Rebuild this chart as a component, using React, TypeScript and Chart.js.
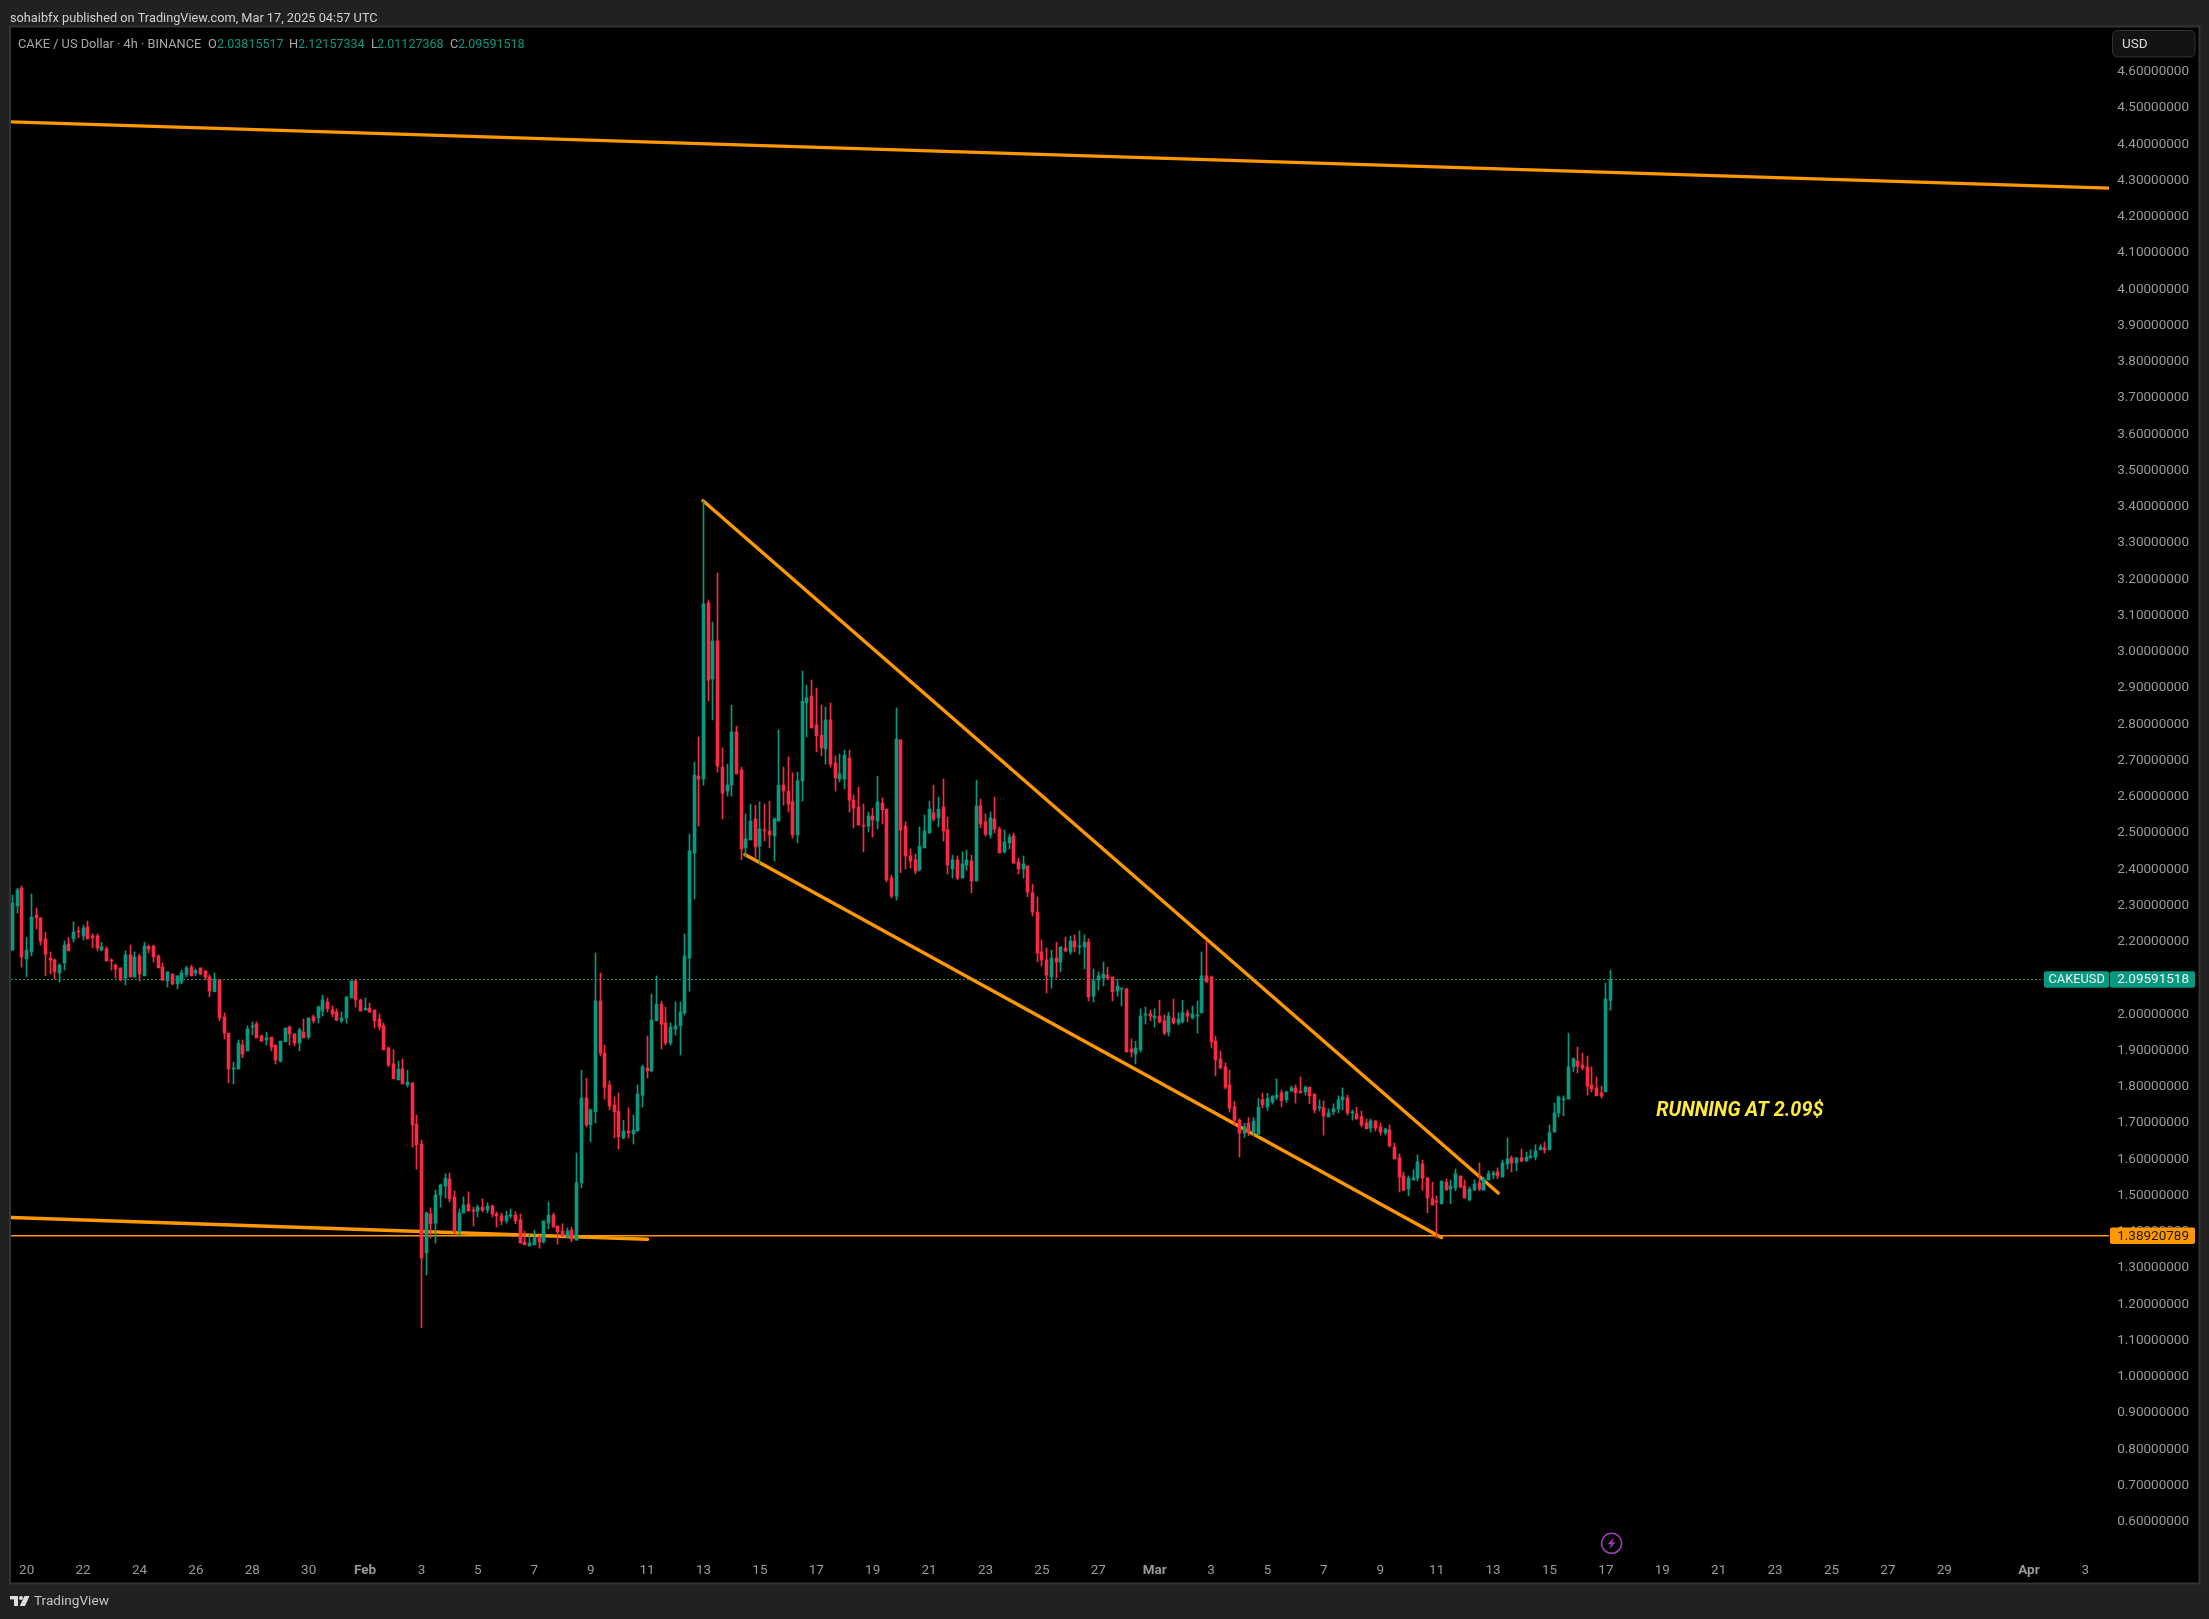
import React, { useEffect, useRef } from "react";
import { Chart, registerables } from "chart.js";

Chart.register(...registerables);

// 4h candles, one entry per bar
const opens = [
2.177,2.299,2.348,2.153,2.172,2.274,2.266,2.208,2.155,2.150,
2.114,2.142,2.194,2.208,2.230,2.216,2.241,2.216,2.216,2.177,
2.180,2.150,2.136,2.128,2.100,2.164,2.103,2.161,2.106,2.188,
2.188,2.161,2.130,2.092,2.111,2.084,2.089,2.109,2.130,2.114,
2.128,2.120,2.103,2.062,2.095,1.993,1.948,1.849,1.849,1.915,
1.899,1.965,1.973,1.940,1.929,1.937,1.915,1.871,1.924,1.965,
1.946,1.921,1.951,1.937,1.993,1.990,2.009,2.034,2.012,2.006,
1.982,1.990,2.045,2.092,2.039,2.012,2.017,2.012,1.987,1.968,
1.907,1.863,1.819,1.849,1.805,1.811,1.697,1.642,1.342,1.449,
1.424,1.502,1.526,1.546,1.496,1.400,1.452,1.477,1.460,1.457,
1.468,1.460,1.471,1.449,1.444,1.430,1.444,1.446,1.433,1.372,
1.361,1.364,1.383,1.372,1.424,1.446,1.416,1.402,1.386,1.405,
1.377,1.535,1.769,1.695,1.731,2.037,1.893,1.805,1.750,1.733,
1.659,1.678,1.670,1.678,1.777,1.852,1.844,1.982,2.028,1.976,
1.921,1.959,1.968,2.004,2.155,2.445,2.657,2.649,3.135,2.925,
3.030,2.682,2.616,2.632,2.779,2.674,2.459,2.481,2.539,2.464,
2.508,2.506,2.492,2.533,2.632,2.616,2.586,2.495,2.644,2.859,
2.878,2.798,2.770,2.732,2.812,2.693,2.649,2.649,2.707,2.591,
2.572,2.522,2.519,2.547,2.533,2.583,2.566,2.376,2.326,2.757,
2.519,2.437,2.426,2.398,2.459,2.500,2.555,2.542,2.572,2.508,
2.401,2.426,2.376,2.412,2.423,2.368,2.575,2.531,2.495,2.539,
2.511,2.448,2.473,2.492,2.420,2.401,2.409,2.335,2.282,2.172,
2.150,2.103,2.155,2.144,2.183,2.172,2.202,2.186,2.186,2.199,
2.050,2.095,2.100,2.108,2.103,2.064,2.070,2.070,1.904,1.890,
1.902,1.998,2.001,1.990,1.995,1.982,1.951,1.990,1.976,1.979,
2.004,1.990,1.995,2.004,2.106,2.103,1.926,1.877,1.855,1.805,
1.745,1.708,1.672,1.700,1.675,1.670,1.765,1.744,1.758,1.771,
1.783,1.764,1.788,1.797,1.788,1.786,1.799,1.780,1.742,1.742,
1.717,1.731,1.739,1.764,1.769,1.728,1.725,1.717,1.700,1.686,
1.706,1.689,1.673,1.681,1.634,1.604,1.554,1.518,1.543,1.548,
1.587,1.548,1.491,1.485,1.477,1.537,1.518,1.521,1.554,1.526,
1.488,1.515,1.535,1.515,1.543,1.557,1.565,1.551,1.587,1.604,
1.590,1.604,1.595,1.604,1.606,1.626,1.631,1.626,1.675,1.728,
1.764,1.766,1.855,1.871,1.860,1.855,1.805,1.797,1.783,1.786,2.03815517,
];
const highs = [
2.329,2.348,2.354,2.212,2.332,2.293,2.266,2.226,2.172,2.153,
2.139,2.202,2.212,2.255,2.241,2.246,2.257,2.222,2.222,2.199,
2.186,2.153,2.139,2.128,2.175,2.191,2.172,2.166,2.199,2.191,
2.191,2.164,2.142,2.117,2.111,2.106,2.122,2.133,2.136,2.125,
2.128,2.120,2.109,2.114,2.097,2.004,1.948,1.868,1.929,1.929,
1.968,1.979,1.979,1.943,1.951,1.937,1.915,1.926,1.962,1.968,
1.946,1.962,1.987,1.990,1.998,2.023,2.053,2.045,2.023,2.015,
2.006,2.048,2.092,2.097,2.042,2.045,2.031,2.012,2.001,1.976,
1.910,1.902,1.871,1.877,1.846,1.811,1.722,1.653,1.455,1.466,
1.515,1.532,1.560,1.562,1.513,1.463,1.496,1.510,1.468,1.474,
1.491,1.480,1.474,1.455,1.452,1.457,1.463,1.455,1.449,1.402,
1.394,1.405,1.391,1.430,1.482,1.452,1.416,1.422,1.411,1.413,
1.617,1.846,1.824,1.739,2.169,2.114,1.915,1.816,1.772,1.783,
1.708,1.742,1.722,1.805,1.860,1.940,2.056,2.106,2.036,2.020,
1.976,2.034,2.034,2.222,2.497,2.696,2.765,3.416,3.143,3.082,
3.217,2.735,2.690,2.853,2.795,2.682,2.553,2.580,2.577,2.586,
2.580,2.588,2.542,2.784,2.682,2.710,2.666,2.668,2.947,2.908,
2.922,2.900,2.853,2.848,2.859,2.713,2.718,2.729,2.729,2.605,
2.627,2.580,2.558,2.569,2.657,2.597,2.566,2.384,2.845,2.757,
2.531,2.456,2.442,2.517,2.550,2.588,2.632,2.599,2.649,2.544,
2.439,2.437,2.448,2.453,2.439,2.646,2.594,2.553,2.558,2.599,
2.517,2.508,2.497,2.500,2.431,2.437,2.409,2.359,2.324,2.205,
2.183,2.177,2.199,2.186,2.213,2.216,2.219,2.230,2.219,2.208,
2.125,2.117,2.144,2.130,2.103,2.097,2.072,2.072,1.932,1.926,
2.015,2.020,2.012,2.015,2.039,1.998,2.006,2.042,2.004,2.039,
2.012,2.023,2.037,2.172,2.202,2.106,1.940,1.899,1.866,1.846,
1.760,1.712,1.700,1.715,1.715,1.768,1.782,1.782,1.776,1.822,
1.791,1.788,1.802,1.805,1.827,1.802,1.799,1.780,1.764,1.761,
1.739,1.753,1.775,1.797,1.777,1.736,1.744,1.733,1.711,1.711,
1.706,1.700,1.686,1.695,1.645,1.615,1.565,1.554,1.571,1.612,
1.598,1.551,1.537,1.499,1.540,1.546,1.543,1.573,1.554,1.543,
1.524,1.543,1.590,1.551,1.568,1.568,1.576,1.598,1.659,1.609,
1.604,1.628,1.620,1.626,1.640,1.640,1.648,1.695,1.755,1.775,
1.775,1.948,1.880,1.910,1.893,1.885,1.855,1.827,1.802,2.086,2.12157334,
];
const lows = [
2.177,2.279,2.130,2.103,2.161,2.235,2.191,2.106,2.111,2.097,
2.089,2.122,2.175,2.199,2.211,2.205,2.208,2.183,2.175,2.175,
2.147,2.122,2.100,2.092,2.081,2.103,2.103,2.092,2.106,2.169,
2.144,2.128,2.092,2.075,2.081,2.070,2.084,2.103,2.106,2.106,
2.109,2.095,2.048,2.062,1.982,1.932,1.811,1.808,1.849,1.880,
1.899,1.943,1.935,1.926,1.915,1.899,1.863,1.868,1.924,1.915,
1.913,1.899,1.935,1.932,1.976,1.976,1.995,2.006,1.993,1.982,
1.976,1.976,2.045,2.020,2.009,2.012,2.006,1.962,1.957,1.902,
1.855,1.822,1.819,1.808,1.799,1.634,1.573,1.135,1.281,1.383,
1.369,1.468,1.493,1.482,1.394,1.388,1.452,1.457,1.416,1.441,
1.455,1.452,1.441,1.413,1.419,1.424,1.438,1.422,1.369,1.364,
1.361,1.364,1.355,1.369,1.408,1.413,1.366,1.388,1.383,1.372,
1.377,1.521,1.689,1.648,1.700,1.885,1.766,1.736,1.659,1.628,
1.656,1.659,1.642,1.678,1.744,1.824,1.841,1.982,1.904,1.915,
1.915,1.943,1.888,1.998,2.064,2.318,2.519,2.632,2.864,2.812,
2.668,2.539,2.602,2.602,2.663,2.426,2.434,2.481,2.431,2.415,
2.478,2.459,2.423,2.533,2.577,2.558,2.486,2.473,2.588,2.765,
2.790,2.724,2.713,2.690,2.682,2.616,2.641,2.622,2.558,2.514,
2.522,2.448,2.503,2.489,2.511,2.525,2.365,2.321,2.315,2.390,
2.401,2.404,2.387,2.395,2.459,2.500,2.533,2.517,2.478,2.387,
2.376,2.371,2.376,2.398,2.335,2.368,2.514,2.492,2.486,2.500,
2.445,2.445,2.456,2.417,2.387,2.376,2.324,2.271,2.144,2.133,
2.059,2.072,2.100,2.117,2.172,2.166,2.172,2.166,2.125,2.037,
2.034,2.067,2.078,2.095,2.037,2.050,2.023,1.896,1.882,1.863,
1.896,1.973,1.982,1.965,1.976,1.943,1.940,1.973,1.971,1.976,
1.979,1.987,1.948,2.004,2.089,1.907,1.830,1.849,1.794,1.730,
1.695,1.606,1.660,1.665,1.665,1.665,1.742,1.735,1.752,1.765,
1.745,1.757,1.788,1.755,1.783,1.777,1.753,1.728,1.733,1.667,
1.717,1.722,1.728,1.736,1.722,1.708,1.711,1.689,1.684,1.675,
1.678,1.667,1.667,1.634,1.601,1.510,1.513,1.499,1.543,1.540,
1.515,1.452,1.474,1.383,1.477,1.515,1.477,1.513,1.521,1.493,
1.485,1.515,1.513,1.515,1.543,1.546,1.546,1.551,1.573,1.565,
1.568,1.593,1.595,1.604,1.598,1.626,1.617,1.626,1.675,1.717,
1.720,1.766,1.841,1.838,1.846,1.777,1.786,1.775,1.769,1.786,2.01127368,
];
const closes = [
2.307,2.343,2.158,2.177,2.268,2.266,2.202,2.166,2.150,2.117,
2.136,2.191,2.175,2.227,2.227,2.238,2.208,2.211,2.183,2.186,
2.147,2.147,2.125,2.095,2.164,2.103,2.158,2.111,2.188,2.180,
2.158,2.128,2.095,2.117,2.084,2.106,2.114,2.128,2.106,2.120,
2.111,2.103,2.064,2.097,1.990,1.948,1.849,1.852,1.921,1.890,
1.960,1.968,1.935,1.926,1.935,1.910,1.874,1.926,1.962,1.946,
1.921,1.957,1.935,1.990,1.982,2.020,2.040,2.015,2.001,1.984,
1.990,2.048,2.092,2.040,2.009,2.017,2.006,1.982,1.965,1.902,
1.860,1.822,1.849,1.808,1.813,1.695,1.640,1.328,1.452,1.422,
1.502,1.529,1.548,1.491,1.400,1.452,1.474,1.457,1.457,1.468,
1.460,1.471,1.449,1.444,1.430,1.444,1.446,1.430,1.369,1.364,
1.369,1.383,1.372,1.430,1.446,1.413,1.400,1.388,1.402,1.380,
1.535,1.769,1.695,1.736,2.037,1.893,1.799,1.747,1.731,1.662,
1.678,1.673,1.681,1.780,1.855,1.844,1.984,2.028,1.973,1.921,
1.965,1.968,2.006,2.161,2.451,2.660,2.649,3.132,2.922,3.030,
2.685,2.610,2.632,2.779,2.663,2.456,2.484,2.533,2.462,2.511,
2.506,2.495,2.539,2.632,2.616,2.580,2.495,2.644,2.864,2.873,
2.790,2.768,2.735,2.812,2.690,2.652,2.663,2.715,2.591,2.569,
2.522,2.519,2.547,2.536,2.586,2.564,2.371,2.326,2.759,2.508,
2.437,2.423,2.395,2.464,2.506,2.566,2.539,2.566,2.506,2.412,
2.426,2.376,2.415,2.426,2.368,2.575,2.525,2.497,2.542,2.511,
2.445,2.475,2.489,2.417,2.401,2.415,2.337,2.282,2.169,2.150,
2.108,2.155,2.144,2.186,2.175,2.202,2.186,2.188,2.199,2.048,
2.092,2.106,2.111,2.100,2.062,2.078,2.072,1.896,1.896,1.907,
1.995,2.001,1.995,1.995,1.979,1.948,1.995,1.976,1.987,2.004,
1.995,2.001,1.998,2.106,2.089,1.924,1.874,1.852,1.799,1.741,
1.708,1.672,1.690,1.675,1.705,1.744,1.750,1.768,1.773,1.777,
1.762,1.786,1.797,1.783,1.783,1.799,1.775,1.736,1.744,1.720,
1.728,1.739,1.764,1.772,1.728,1.731,1.711,1.695,1.684,1.706,
1.686,1.675,1.684,1.637,1.601,1.551,1.515,1.548,1.548,1.593,
1.548,1.493,1.474,1.482,1.540,1.515,1.526,1.560,1.524,1.493,
1.518,1.532,1.518,1.546,1.560,1.562,1.554,1.590,1.601,1.590,
1.604,1.595,1.606,1.609,1.623,1.634,1.626,1.673,1.728,1.772,
1.766,1.855,1.877,1.857,1.852,1.802,1.794,1.775,1.775,2.042,2.09591518,
];

const priceTicks = [
4.6,4.5,4.4,4.3,4.2,4.1,4.0,3.9,3.8,3.7,3.6,3.5,3.4,3.3,3.2,3.1,3.0,2.9,2.8,2.7,2.6,2.5,2.4,
2.3,2.2,2.1,2.0,1.9,1.8,1.7,1.6,1.5,1.4,1.3,1.2,1.1,1.0,0.9,0.8,0.7,0.6,
];
const timeTickBars = [
3,15,27,39,51,63,75,87,99,111,123,135,147,159,171,183,195,207,219,231,243,255,267,279,291,303,315,327,339,351,363,375,387,399,411,429,441,
];
const timeTickLabels = [
"20","22","24","26","28","30","Feb","3","5","7","9","11","13","15","17","19","21","23","25","27","Mar","3","5","7","9","11","13","15","17","19","21","23","25","27","29","Apr","3",
];
const monthLabels = ["Feb", "Mar", "Apr"];

// drawn lines: bar position and price of each end
const resistanceBars = [-0.34, 446.04];
const resistancePrices = [4.462, 4.279];
const supportBars = [-0.34, 135.1];
const supportPrices = [1.4395, 1.3793];
const wedgeTopBars = [146.9, 316.1];
const wedgeTopPrices = [3.4168, 1.507];
const wedgeBottomBars = [155.8, 304.0];
const wedgeBottomPrices = [2.441, 1.384];
const levelPrice = 1.38920789;
const lastPrice = 2.09591518;
const noteBar = 349.7;
const notePrice = 1.732;
const noteText = "RUNNING AT 2.09$";

const UP = "#089981";
const DOWN = "#f72c44";
const ORANGE = "#ff9800";
const FONT = "Roboto";
const X_MIN = -0.34;
const X_MAX = 446.04;

const toLine = (xs: number[], ys: number[]) => xs.map((x, i) => ({ x, y: ys[i] }));

function text(ctx: CanvasRenderingContext2D, s: string, x: number, y: number, color: string, font: string, align: CanvasTextAlign = "left") {
  ctx.font = font;
  ctx.fillStyle = color;
  ctx.textAlign = align;
  ctx.textBaseline = "middle";
  ctx.fillText(s, x, y);
}

function roundBox(ctx: CanvasRenderingContext2D, x0: number, y0: number, x1: number, y1: number, r: number, fill: string, stroke?: string) {
  ctx.beginPath();
  ctx.roundRect(x0, y0, x1 - x0, y1 - y0, r);
  ctx.fillStyle = fill;
  ctx.fill();
  if (stroke) {
    ctx.strokeStyle = stroke;
    ctx.lineWidth = 1;
    ctx.stroke();
  }
}

const snapBars = {
  id: "snapBars",
  afterDatasetsUpdate(chart: any) {
    chart.data.datasets.forEach((d: any, i: number) => {
      if (d.type !== "bar") return;
      chart.getDatasetMeta(i).data.forEach((el: any) => {
        el.x = Math.floor(el.x) + 0.5;
      });
    });
  },
};

const backdrop = {
  id: "backdrop",
  beforeDraw(chart: any) {
    const c: CanvasRenderingContext2D = chart.ctx;
    c.save();
    c.fillStyle = "#212121";
    c.fillRect(0, 0, 2209, 1619);
    c.fillStyle = "#000000";
    c.fillRect(11, 27, 2188, 1556);
    c.strokeStyle = "#333333";
    c.lineWidth = 2;
    c.strokeRect(10, 26.5, 2189.5, 1557);
    c.restore();
  },
};

const overlay = {
  id: "overlay",
  afterDraw(chart: any) {
    const c: CanvasRenderingContext2D = chart.ctx;
    const xs = chart.scales.x;
    const ys = chart.scales.y;
    c.save();

    text(c, "sohaibfx published on TradingView.com, Mar 17, 2025 04:57 UTC", 10, 18.5, "#d1d1d1", `12.75px ${FONT}`);

    const lf = `12.8px ${FONT}`;
    const vf = `12.5px ${FONT}`;
    text(c, "CAKE / US Dollar · 4h · BINANCE", 18, 45, "#a8a8a8", lf);
    const parts: [string, number, string, number][] = [
      ["O", 208, opens[opens.length - 1].toFixed(8), 217],
      ["H", 289, highs[highs.length - 1].toFixed(8), 298],
      ["L", 371, lows[lows.length - 1].toFixed(8), 377],
      ["C", 450, closes[closes.length - 1].toFixed(8), 458],
    ];
    parts.forEach(([k, kx, v, vx]) => {
      text(c, k, kx, 45, "#a8a8a8", lf);
      text(c, v, vx, 45, UP, vf);
    });

    // currency button
    roundBox(c, 2112.5, 30.5, 2195, 57, 5, "#131313", "#333333");
    text(c, "USD", 2122, 44.5, "#dcdcdc", `13.5px ${FONT}`);

    // last price tags
    const py = ys.getPixelForValue(lastPrice);
    roundBox(c, 2044, py - 8.2, 2109, py + 8.2, 2, UP);
    roundBox(c, 2110, py - 8.2, 2195, py + 8.2, 2, UP);
    text(c, "CAKEUSD", 2048.5, py + 0.5, "#f0f0f0", `12.8px ${FONT}`);
    text(c, lastPrice.toFixed(8), 2189, py + 0.5, "#f0f0f0", `13.5px ${FONT}`, "right");

    // horizontal level tag
    const ly = ys.getPixelForValue(levelPrice);
    roundBox(c, 2110, ly - 8.3, 2195, ly + 8.3, 2, ORANGE);
    text(c, levelPrice.toFixed(8), 2189, ly + 0.5, "#1a1a1a", `13.5px ${FONT}`, "right");

    // note
    text(c, noteText, xs.getPixelForValue(noteBar), ys.getPixelForValue(notePrice), "#ffeb3b", `italic bold 19.8px ${FONT}`);

    // lightning marker
    const bx = xs.getPixelForValue(340) + 1;
    const by = 1543.3;
    c.strokeStyle = "#9c3fb3";
    c.lineWidth = 1.5;
    c.beginPath();
    c.arc(bx, by, 10, 0, Math.PI * 2);
    c.stroke();
    c.fillStyle = "#9c3fb3";
    c.beginPath();
    c.moveTo(bx + 2.5, by - 6);
    c.lineTo(bx - 4, by + 1);
    c.lineTo(bx - 0.5, by + 1);
    c.lineTo(bx - 2.5, by + 6);
    c.lineTo(bx + 4, by - 1);
    c.lineTo(bx + 0.5, by - 1);
    c.closePath();
    c.fill();

    // footer logo and name
    c.fillStyle = "#dddddd";
    c.fillRect(10, 1596, 8, 3.4);
    c.fillRect(14, 1596, 4, 10);
    c.beginPath();
    c.arc(21, 1598, 2, 0, Math.PI * 2);
    c.fill();
    c.beginPath();
    c.moveTo(24.5, 1596);
    c.lineTo(29.5, 1596);
    c.lineTo(25, 1606);
    c.lineTo(19.8, 1606);
    c.closePath();
    c.fill();
    text(c, "TradingView", 34, 1601.5, "#c4c4c4", `13.6px ${FONT}`);

    c.restore();
  },
};

export default function App() {
  const ref = useRef<HTMLCanvasElement>(null);

  useEffect(() => {
    if (!ref.current) return;
    const colors = closes.map((v, i) => (v >= opens[i] ? UP : DOWN));
    const lineStyle = {
      type: "line" as const,
      borderColor: ORANGE,
      borderWidth: 3.4,
      pointRadius: 0,
      tension: 0,
      borderCapStyle: "round" as const,
      order: 5,
    };
    const chart = new Chart(ref.current, {
      type: "bar",
      data: {
        datasets: [
          { ...lineStyle, data: toLine(resistanceBars, resistancePrices) },
          { ...lineStyle, data: toLine(supportBars, supportPrices) },
          { ...lineStyle, data: toLine(wedgeTopBars, wedgeTopPrices) },
          { ...lineStyle, data: toLine(wedgeBottomBars, wedgeBottomPrices) },
          { ...lineStyle, borderWidth: 1.4, data: toLine([X_MIN, X_MAX], [levelPrice, levelPrice]) },
          { ...lineStyle, borderWidth: 1, borderColor: UP, borderDash: [2, 2], borderCapStyle: "butt" as const, data: toLine([X_MIN, X_MAX], [lastPrice, lastPrice]) },
          {
            type: "bar" as const,
            data: highs.map((h, i) => ({ x: i, y: [lows[i], h] })),
            backgroundColor: colors,
            barThickness: 1,
            grouped: false,
            borderWidth: 0,
            order: 2,
          },
          {
            type: "bar" as const,
            data: opens.map((o, i) => ({ x: i, y: [o, closes[i]] })),
            backgroundColor: colors,
            barThickness: 3,
            grouped: false,
            borderWidth: 0,
            minBarLength: 1,
            order: 1,
          },
        ] as any,
      },
      options: {
        responsive: false,
        animation: false,
        devicePixelRatio: 1,
        events: [],
        layout: { padding: { left: 11, top: 27, right: 20, bottom: 36 } },
        plugins: { legend: { display: false }, tooltip: { enabled: false }, title: { display: false } },
        scales: {
          x: {
            type: "linear",
            min: X_MIN,
            max: X_MAX,
            offset: false,
            grid: { display: false, drawTicks: false },
            border: { display: false },
            afterBuildTicks: (s: any) => {
              s.ticks = timeTickBars.map((value) => ({ value }));
            },
            afterFit: (s: any) => {
              s.height = 35;
            },
            ticks: {
              autoSkip: false,
              maxRotation: 0,
              minRotation: 0,
              padding: 15,
              color: "#9a9a9a",
              font: (ctx: any) => ({
                family: FONT,
                size: 13.5,
                weight: monthLabels.includes(timeTickLabels[timeTickBars.indexOf(ctx.tick?.value)]) ? "bold" : "normal",
              }),
              callback: (_v: any, i: number) => timeTickLabels[i],
            },
          },
          y: {
            type: "linear",
            position: "right",
            min: 0.5277,
            max: 4.7236,
            grid: { display: false, drawTicks: false },
            border: { display: false },
            afterBuildTicks: (s: any) => {
              s.ticks = priceTicks.map((value) => ({ value }));
            },
            afterFit: (s: any) => {
              s.width = 80;
            },
            ticks: {
              autoSkip: false,
              crossAlign: "far",
              padding: 9,
              color: "#9a9a9a",
              font: { family: FONT, size: 13.5 },
              callback: (v: any) => Number(v).toFixed(8),
            },
          },
        },
      },
      plugins: [backdrop, snapBars, overlay],
    } as any);
    return () => chart.destroy();
  }, []);

  return (
    <div style={{ position: "absolute", left: 0, top: 0, width: 2209, height: 1619, overflow: "hidden" }}>
      <canvas ref={ref} width={2209} height={1619} style={{ display: "block", width: 2209, height: 1619 }} />
    </div>
  );
}
